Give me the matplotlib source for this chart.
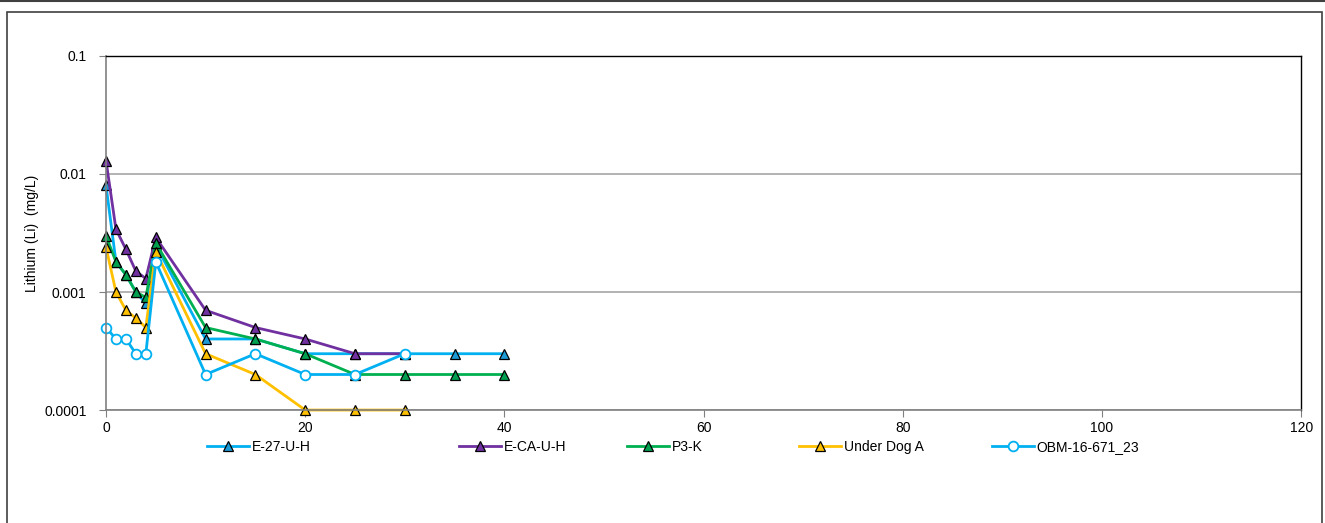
import matplotlib
matplotlib.use("Agg")
import matplotlib.pyplot as plt
from matplotlib.lines import Line2D
from matplotlib.patches import Rectangle

plt.rcParams['font.family'] = ['Liberation Sans', 'DejaVu Sans']

# data (time vs lithium, mg/L)
e27_x = [0, 1, 2, 3, 4, 5, 10, 15, 20, 25, 30, 35, 40]
e27_y = [0.008, 0.0018, 0.0014, 0.001, 0.0008, 0.0025, 0.0004, 0.0004, 0.0003, 0.0003, 0.0003, 0.0003, 0.0003]

eca_x = [0, 1, 2, 3, 4, 5, 10, 15, 20, 25, 30]
eca_y = [0.013, 0.0034, 0.0023, 0.0015, 0.0013, 0.0029, 0.0007, 0.0005, 0.0004, 0.0003, 0.0003]

p3k_x = [0, 1, 2, 3, 4, 5, 10, 15, 20, 25, 30, 35, 40]
p3k_y = [0.003, 0.0018, 0.0014, 0.001, 0.0009, 0.0026, 0.0005, 0.0004, 0.0003, 0.0002, 0.0002, 0.0002, 0.0002]

udog_x = [0, 1, 2, 3, 4, 5, 10, 15, 20, 25, 30]
udog_y = [0.0024, 0.001, 0.0007, 0.0006, 0.0005, 0.0022, 0.0003, 0.0002, 0.0001, 0.0001, 0.0001]

obm_x = [0, 1, 2, 3, 4, 5, 10, 15, 20, 25, 30]
obm_y = [0.0005, 0.0004, 0.0004, 0.0003, 0.0003, 0.0018, 0.0002, 0.0003, 0.0002, 0.0002, 0.0003]

names = ['E-27-U-H', 'E-CA-U-H', 'P3-K', 'Under Dog A', 'OBM-16-671_23']

fig = plt.figure(figsize=(13.25, 5.23), dpi=100)
ax = fig.add_axes([0.08, 0.216, 0.902, 0.677])

# outer chart frame
fig.add_artist(Rectangle((7/1325, -0.05), 1315/1325, 1.05 - 12/523, transform=fig.transFigure,
                         fill=False, ec='#404040', lw=1.2))
fig.add_artist(Line2D([0, 1], [0.999, 0.999], transform=fig.transFigure, color='#404040', lw=1.5))

MS = 7
series = [
    (e27_x, e27_y, '#00B0F0', '^', '#1C9AD6'),
    (eca_x, eca_y, '#7030A0', '^', '#7030A0'),
    (p3k_x, p3k_y, '#00B050', '^', '#00A050'),
    (udog_x, udog_y, '#FFC000', '^', '#FFC000'),
]
handles = []
for (x, y, c, m, fc), n in zip(series, names):
    h, = ax.plot(x, y, color=c, lw=2, marker=m, markersize=MS, markerfacecolor=fc,
                 markeredgecolor='black', markeredgewidth=0.9, label=n, clip_on=False)
    handles.append(h)
h, = ax.plot(obm_x, obm_y, color='#00B0F0', lw=2, marker='o', markersize=MS,
             markerfacecolor='white', markeredgecolor='#00B0F0', markeredgewidth=1.3,
             label=names[4], clip_on=False)
handles.append(h)

ax.set_yscale('log')
ax.set_ylim(0.0001, 0.1)
ax.set_xlim(0, 120)
ax.set_xticks(range(0, 121, 20))
ax.set_yticks([0.0001, 0.001, 0.01, 0.1])
ax.set_yticklabels(['0.0001', '0.001', '0.01', '0.1'])
ax.minorticks_off()
ax.yaxis.grid(True, color='#A6A6A6', lw=1.2)
ax.set_axisbelow(True)
ax.tick_params(labelsize=10, color='#808080', length=5)
ax.tick_params(axis='y', pad=9)
ax.tick_params(axis='x', pad=3)
for s in ['left', 'bottom']:
    ax.spines[s].set_color('#808080')
    ax.spines[s].set_linewidth(1.2)
for s in ['top', 'right']:
    ax.spines[s].set_color('black')
    ax.spines[s].set_linewidth(1.0)
ax.set_ylabel('Lithium (Li)  (mg/L)', fontsize=10, labelpad=4)

# legend entries below the axis
leg_x = [218, 470, 638, 810, 1003]
for h, lx in zip(handles, leg_x):
    lg = fig.legend(handles=[h], loc='center left', bbox_to_anchor=(lx/1325 - 0.008, 1 - 447/523),
                    frameon=False, fontsize=10, handlelength=3, handletextpad=0.2,
                    borderpad=0, borderaxespad=0)

fig.savefig('out.png', dpi=100)
